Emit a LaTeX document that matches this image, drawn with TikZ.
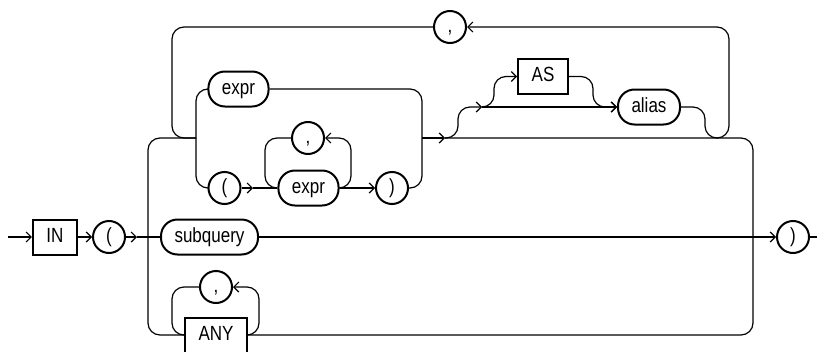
\documentclass[tikz,border=0pt]{standalone}
\usepackage{fontspec}
\setmainfont{Liberation Sans}[FakeStretch=0.83]
\usetikzlibrary{arrows.meta,positioning}

\begin{document}
\begin{tikzpicture}[
    x=1pt, y=-1pt,
    font=\fontsize{20.5}{24}\selectfont,
    kwbox/.style={rectangle, draw, line width=2pt, inner xsep=13.5pt,
        inner ysep=0pt, minimum height=35pt, text height=14.5pt, text depth=4pt},
    ntbox/.style={kwbox, rounded corners=16.5pt},
    punct/.style={circle, draw, line width=2pt, inner sep=0pt,
        minimum size=32pt, text height=14.5pt, text depth=4pt},
    rail/.style={line width=1.2pt, rounded corners=12pt},
    >={Straight Barb[length=5pt,width=10pt]}
]
\useasboundingbox (0,0) rectangle (817,351);

% main line
\node[kwbox] (in) at (55,237) {IN};
\node[punct, right=14pt of in] (lpar) {(};
\node[ntbox] (subq) at (209.5,237) {subquery};
\node[punct] (rpar) at (793,237) {)};
\coordinate (start) at (8,237);
\coordinate (stop) at (817,237);
\coordinate (split) at (148,237);
\coordinate (join) at (753,237);
\coordinate (a1) at (137,237);

% upper branch
\node[ntbox] (exprA) at (238.5,89) {expr};
\node[punct] (lpar2) at (224.5,188) {(};
\node[ntbox] (exprB) at (308.5,188) {expr};
\node[punct] (comB) at (308,138) {,};
\node[punct] (rpar2) at (392,188) {)};
\node[kwbox] (as) at (543,76.5) {AS};
\node[ntbox] (alias) at (649,107) {alias};
\node[punct] (comA) at (450,27) {,};
\coordinate (b1in) at (196,138);
\coordinate (b1mid) at (422,138);
\coordinate (b1arr) at (445,138);
\coordinate (a2) at (253,188);
\coordinate (optA) at (482,107);

% lower branch
\node[kwbox] (any) at (216,335) {ANY};
\node[punct] (comC) at (216,287) {,};

\draw[rail,->] (start) -- (in);
\draw[rail,->] (in) -- (lpar);
\draw[rail,->] (lpar) -- (a1);
\draw[rail] (a1) -- (subq);
\draw[rail,->] (subq) -- (rpar);
\draw[rail] (rpar) -- (stop);

\draw[rail] (split) |- (b1in);
\draw[rail] (split) |- (any.west);
\draw[rail] (b1arr) -| (join);
\draw[rail] (any.east) -| (join);

% expr or ( expr, ... )
\draw[rail] (exprA.west) -| (196,188) -- (lpar2.west);
\draw[rail] (exprA.east) -| (422,188) -- (rpar2.east);
\draw[rail,->] (lpar2) -- (a2);
\draw[rail] (a2) -- (exprB);
\draw[rail,->] (exprB) -- (rpar2);
\draw[rail] (comB.west) -| (265,188) -- (exprB.west);
\draw[rail,->] (exprB.east) -| (351,138) -- (comB.east);
\draw[rail,->] (b1mid) -- (b1arr);

% [AS] alias
\draw[rail,->] (b1arr) -| (458,107) -- (optA);
\draw[rail,->] (optA) -- (alias.west);
\draw[rail,->] (optA) -| (494,76.5) -- (as.west);
\draw[rail,->] (as.east) -| (593,107) -- (alias.west);
\draw[rail] (alias.east) -| (705,138) -- (717,138);

% repeat with comma
\draw[rail] (comA.west) -| (172,138) -- (b1in);
\draw[rail,->] (717,138) -| (729,27) -- (comA.east);
\draw[rail] (comC.west) -| (172,335) -- (any.west);
\draw[rail,->] (any.east) -| (259,287) -- (comC.east);
\end{tikzpicture}
\end{document}
